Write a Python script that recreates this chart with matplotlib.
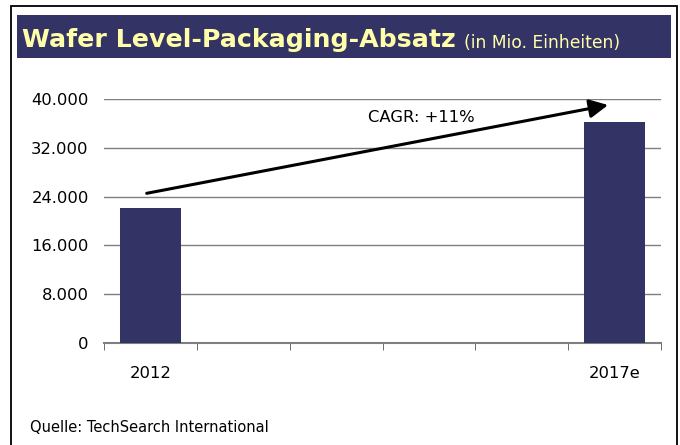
import numpy as np
import matplotlib
matplotlib.use('Agg')
import matplotlib.pyplot as plt
from matplotlib.patches import Rectangle

plt.rcParams['font.family'] = ['DejaVu Sans']

# data
years = ['2012', '2013', '2014', '2015', '2016', '2017e']
shown_labels = ['2012', '', '', '', '', '2017e']
units = [22100, np.nan, np.nan, np.nan, np.nan, 36200]
yticks = [0, 8000, 16000, 24000, 32000, 40000]
ytick_labels = ['0', '8.000', '16.000', '24.000', '32.000', '40.000']
cagr_text = 'CAGR: +11%'
title = 'Wafer Level-Packaging-Absatz'
subtitle = '(in Mio. Einheiten)'
source = 'Quelle: TechSearch International'

W, H = 680, 445
fig = plt.figure(figsize=(W / 100, H / 100), dpi=100)
navy = '#333366'

# frame and title bar
fig.patches.append(Rectangle((10.7 / W, -0.05), (676.7 - 10.7) / W, 1.05 - 6 / H,
                             transform=fig.transFigure, fill=False, ec='black', lw=1.3))
fig.patches.append(Rectangle((16.7 / W, 1 - 58.3 / H), (670.7 - 16.7) / W, (58.3 - 15) / H,
                             transform=fig.transFigure, fc=navy, ec='none'))
t = fig.text(22 / W, 1 - 47.5 / H, title, color='#FFFFAA', fontsize=18.2,
             fontweight='bold', va='baseline', ha='left')
fig.canvas.draw()
bb = t.get_window_extent()
fig.text((bb.x1 + 8) / W, 1 - 47.5 / H, subtitle, color='#FFFFAA', fontsize=12.3,
         va='baseline', ha='left')

ax = fig.add_axes([104 / W, 1 - 342.7 / H, (661 - 104) / W, (342.7 - 99.3) / H])
x = np.arange(len(years))
ax.bar(x, units, width=0.66, color=navy, zorder=3)
ax.set_xlim(-0.5, len(years) - 0.5)
ax.set_ylim(0, 40000)
ax.set_yticks(yticks)
ax.set_yticklabels(ytick_labels, fontsize=11.8)
ax.yaxis.grid(True, color='#7f7f7f', lw=1)
ax.set_axisbelow(True)
ax.tick_params(axis='y', length=0, pad=11)

ax.set_xticks(x)
ax.set_xticklabels(shown_labels, fontsize=11.8)
ax.set_xticks(np.arange(len(years) + 1) - 0.5, minor=True)
ax.tick_params(axis='x', which='major', length=0, pad=17)
ax.tick_params(axis='x', which='minor', length=5, color='#555555', direction='out')

for s in ['top', 'right', 'left']:
    ax.spines[s].set_visible(False)
ax.spines['bottom'].set_color('#7f7f7f')
ax.spines['bottom'].set_linewidth(1.5)

ax.annotate('', xy=(4.93, 39060), xytext=(-0.04, 24550),
            arrowprops=dict(arrowstyle='-|>', color='black', lw=2.2, mutation_scale=28,
                            shrinkA=0, shrinkB=0))
ax.text(2.34, 36930, cagr_text, fontsize=11.8, ha='left', va='center')

fig.text(30 / W, 1 - 427 / H, source, fontsize=10.5, ha='left', va='center')

fig.savefig('out.png', dpi=100)
